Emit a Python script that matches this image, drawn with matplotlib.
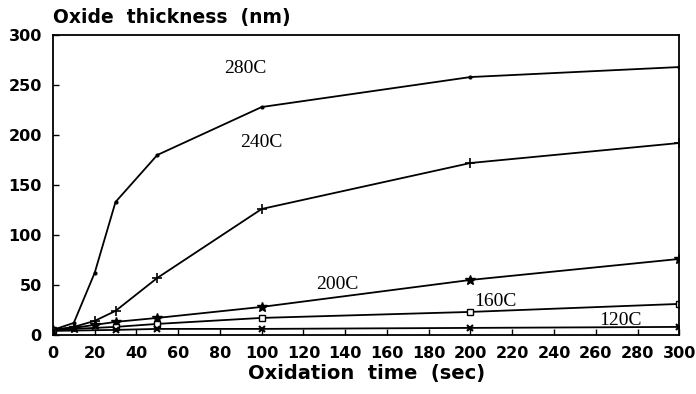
import numpy as np
import matplotlib.pyplot as plt

# oxidation time (sec) and oxide thickness (nm) per temperature
t_full = [0, 10, 20, 30, 50, 100, 200, 300]
t_low = [0, 30, 50, 100, 200, 300]
th_280 = [5, 12, 62, 133, 180, 228, 258, 268]
th_240 = [5, 8, 14, 24, 57, 126, 172, 192]
th_200 = [5, 7, 10, 13, 17, 28, 55, 76]
th_160 = [5, 8, 11, 17, 23, 31]
th_120 = [4, 5, 6, 6, 7, 8]

xticks = np.arange(0, 301, 20)
yticks = np.arange(0, 301, 50)

fig = plt.figure(figsize=(6.96, 3.94), dpi=100)
ax = fig.add_axes([0.076, 0.150, 0.900, 0.761])

ax.plot(t_full, th_280, color='black', lw=1.3, marker='.', ms=4)
ax.plot(t_full, th_240, color='black', lw=1.3, marker='+', ms=7, mew=1.2)
ax.plot(t_full, th_200, color='black', lw=1.3, marker='*', ms=7)
ax.plot(t_low, th_160, color='black', lw=1.3, marker='s', ms=5, mfc='white')
ax.plot(t_low, th_120, color='black', lw=1.3, marker='x', ms=5, mew=1.5)

serif = 'Liberation Serif'
ax.text(92, 267, '280C', family=serif, fontsize=14, ha='center', va='center')
ax.text(100, 193, '240C', family=serif, fontsize=14, ha='center', va='center')
ax.text(136, 50, '200C', family=serif, fontsize=14, ha='center', va='center')
ax.text(212, 33, '160C', family=serif, fontsize=14, ha='center', va='center')
ax.text(272, 14, '120C', family=serif, fontsize=14, ha='center', va='center')

ax.set_xlim(0, 300)
ax.set_ylim(0, 300)
ax.set_xticks(xticks)
ax.set_yticks(yticks)
ax.tick_params(direction='in', length=4, width=1, labelsize=11.5, pad=8)
for lab in ax.get_xticklabels() + ax.get_yticklabels():
    lab.set_fontweight('bold')
for s in ax.spines.values():
    s.set_linewidth(1.3)

ax.set_xlabel('Oxidation  time  (sec)', fontsize=14, fontweight='bold', labelpad=2)
fig.text(0.076, 0.955, 'Oxide  thickness  (nm)', fontsize=13.5, fontweight='bold',
         ha='left', va='center')

fig.savefig('out.png', dpi=100)
